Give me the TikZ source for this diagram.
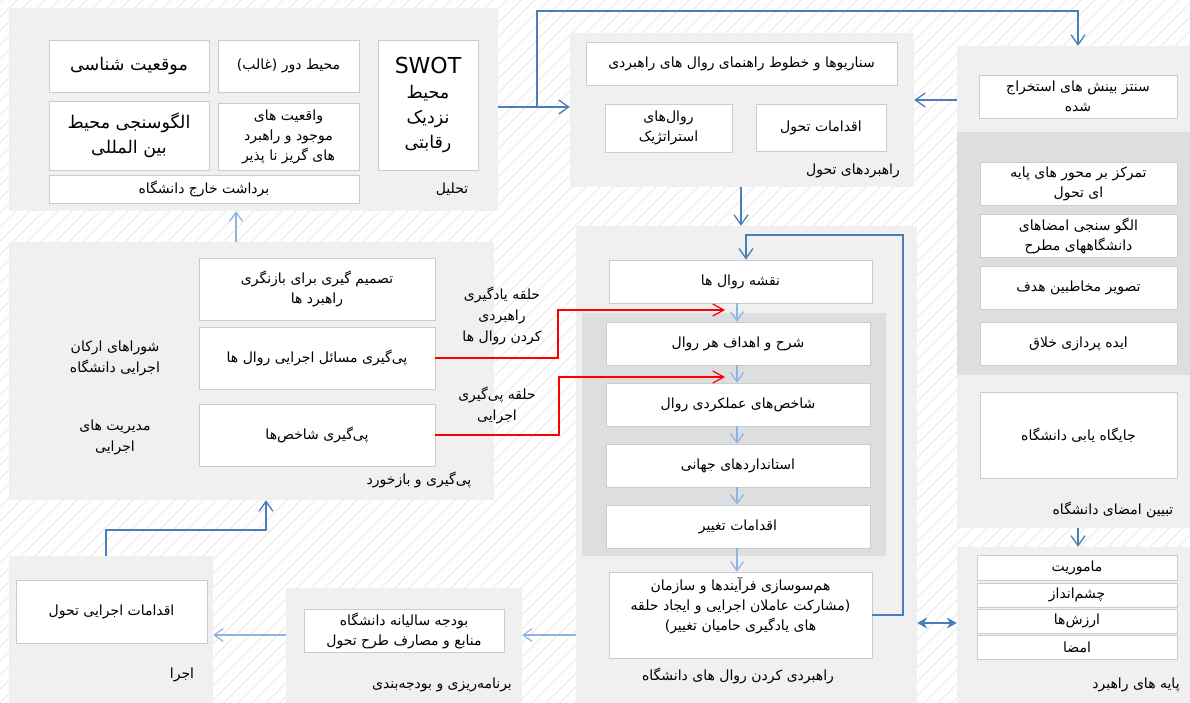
\documentclass[tikz,border=0pt]{standalone}
\usepackage{fontspec}
\usetikzlibrary{arrows.meta}
\newfontfamily\arabicfont[Script=Arabic]{DejaVu Sans}
\TeXXeTstate=1
\newcommand{\fa}[1]{\beginR #1\endR}
\definecolor{panelbg}{RGB}{240,240,240}
\definecolor{paneldark}{RGB}{221,222,223}
\definecolor{hatchline}{RGB}{222,222,222}
\definecolor{boxline}{RGB}{204,204,204}
\definecolor{darkblue}{RGB}{74,126,187}
\definecolor{lightblue}{RGB}{141,180,226}

\begin{document}
\begin{tikzpicture}[x=1pt, y=-1pt,
    panel/.style = {fill=panelbg, inner sep=0pt},
    darkpanel/.style = {fill=paneldark, inner sep=0pt},
    box/.style = {draw=boxline, fill=white, line width=0.8pt, inner sep=1pt, align=center,
      font=\arabicfont\fontsize{14}{20}\selectfont},
    bigbox/.style = {box, font=\arabicfont\fontsize{17.5}{25}\selectfont},
    lbl/.style = {align=center, inner sep=1pt, font=\arabicfont\fontsize{14}{21}\selectfont},
    darrow/.style = {draw=darkblue, line width=1.3pt, -{Straight Barb[length=10pt,width=14pt]}},
    larrow/.style = {draw=lightblue, line width=1.2pt, -{Straight Barb[length=9pt,width=13pt]}},
    redarrow/.style = {draw=red, line width=1.2pt, -{Straight Barb[length=11pt,width=12pt]}},
    dblarrow/.style = {draw=darkblue, line width=1.3pt, {Stealth[length=10pt,width=11pt]}-{Stealth[length=10pt,width=11pt]}}]
\useasboundingbox (0,0) rectangle (1190,703);

% background hatching
\begin{scope}
  \clip (0,0) rectangle (1190,703);
  \foreach \i in {-714,-700,...,1190}
    \draw[hatchline, line width=0.6pt] (\i,703) -- (\i+703,0);
\end{scope}

% panels
\node[panel, minimum width=489pt, minimum height=203pt] (tahlil) at (253.5,109.5) {};
\node[panel, minimum width=344pt, minimum height=154pt] (rahbord) at (742,110) {};
\node[panel, minimum width=233pt, minimum height=482pt] (sig) at (1073.5,287) {};
\node[darkpanel, minimum width=233pt, minimum height=243pt] (sigdark) at (1073.5,253.5) {};
\node[panel, minimum width=233pt, minimum height=156pt] (payeh) at (1073.5,625) {};
\node[panel, minimum width=485pt, minimum height=258pt] (peygiri) at (251.5,371) {};
\node[panel, minimum width=341pt, minimum height=477pt] (ravalpanel) at (746.5,464.5) {};
\node[darkpanel, minimum width=304pt, minimum height=243pt] (ravaldark) at (734,434.5) {};
\node[panel, minimum width=204pt, minimum height=147pt] (ejrapanel) at (111,629.5) {};
\node[panel, minimum width=236pt, minimum height=115pt] (barname) at (404,645.5) {};

% tahlil
\node[bigbox, minimum width=160pt, minimum height=52pt] (mowqiyat) at (129,66) {\fa{موقعیت شناسی}};
\node[box, minimum width=141pt, minimum height=52pt] (mohitdur) at (288.5,66) {\fa{محیط دور (غالب)}};
\node[bigbox, minimum width=160pt, minimum height=69pt] (olgusanji) at (129,135.5) {\fa{الگوسنجی محیط}\\ \fa{بین المللی}};
\node[box, minimum width=141pt, minimum height=67pt] (vaqeiyat) at (288.5,136.5) {\fa{واقعیت  های}\\ \fa{موجود و راهبرد}\\ \fa{های گریز نا پذیر}};
\node[bigbox, minimum width=100pt, minimum height=130pt] (swot) at (428,105) {\fontsize{22}{25}\selectfont SWOT\\ \fa{محیط}\\ \fa{نزدیک}\\ \fa{رقابتی}};
\node[box, minimum width=310pt, minimum height=28pt] (bardasht) at (204,189) {\fa{برداشت خارج دانشگاه}};
\node[lbl] (tahlillbl) at (452,189) {\fa{تحلیل}};

% rahbordha
\node[box, minimum width=311pt, minimum height=43pt] (senario) at (741.5,63.5) {\fa{سناریوها و خطوط راهنمای روال های راهبردی}};
\node[box, minimum width=127pt, minimum height=48pt] (ravalestr) at (668.5,128) {\fa{روال‌های}\\ \fa{استراتژیک}};
\node[box, minimum width=130pt, minimum height=47pt] (eqdamat) at (821,127.5) {\fa{اقدامات تحول}};
\node[lbl] (rahbordlbl) at (853,171) {\fa{راهبردهای تحول}};

% signature
\node[box, minimum width=198pt, minimum height=43pt] (sentez) at (1078,96.5) {\fa{سنتز بینش های استخراج}\\ \fa{شده}};
\node[box, minimum width=197pt, minimum height=43pt] (tamarkoz) at (1078.5,183.5) {\fa{تمرکز بر محور های پایه}\\ \fa{ای تحول}};
\node[box, minimum width=197pt, minimum height=43pt] (olguimza) at (1078.5,235.5) {\fa{الگو سنجی امضاهای}\\ \fa{دانشگاههای مطرح}};
\node[box, minimum width=197pt, minimum height=43pt] (tasvir) at (1078.5,287.5) {\fa{تصویر مخاطبین هدف}};
\node[box, minimum width=197pt, minimum height=43pt] (ide) at (1078.5,343.5) {\fa{ایده پردازی خلاق}};
\node[box, minimum width=197pt, minimum height=86pt] (jaygah) at (1078.5,435) {\fa{جایگاه یابی دانشگاه}};
\node[lbl] (siglbl) at (1113,510) {\fa{تبیین امضای دانشگاه}};

% payeh
\node[box, minimum width=200pt, minimum height=25pt, inner sep=0pt] (mamoriyat) at (1077,567.5) {\fa{ماموریت}};
\node[box, minimum width=200pt, minimum height=24pt, inner sep=0pt] (cheshmandaz) at (1077,595) {\fa{چشم‌انداز}};
\node[box, minimum width=200pt, minimum height=24pt, inner sep=0pt] (arzesh) at (1077,621) {\fa{ارزش‌ها}};
\node[box, minimum width=200pt, minimum height=24pt, inner sep=0pt] (imza) at (1077,647) {\fa{امضا}};
\node[lbl] (payehlbl) at (1136,685) {\fa{پایه های راهبرد}};

% peygiri
\node[box, minimum width=236pt, minimum height=62pt] (tasmim) at (317,289) {\fa{تصمیم گیری برای بازنگری}\\ \fa{راهبرد ها}};
\node[box, minimum width=236pt, minimum height=62pt] (masael) at (317,358) {\fa{پی‌گیری مسائل اجرایی روال ها}};
\node[box, minimum width=236pt, minimum height=62pt] (shakhes) at (317,435) {\fa{پی‌گیری شاخص‌ها}};
\node[lbl] (shoralbl) at (115,358) {\fa{شوراهای ارکان}\\ \fa{اجرایی دانشگاه}};
\node[lbl] (modirlbl) at (115,437) {\fa{مدیریت های}\\ \fa{اجرایی}};
\node[lbl] (peygirilbl) at (419,480) {\fa{پی‌گیری و بازخورد}};
\node[lbl] (halqe1) at (502,316) {\fa{حلقه یادگیری}\\ \fa{راهبردی}\\ \fa{کردن روال ها}};
\node[lbl] (halqe2) at (497,405) {\fa{حلقه پی‌گیری}\\ \fa{اجرایی}};

% raval
\node[box, minimum width=263pt, minimum height=43pt] (naqshe) at (740.5,281.5) {\fa{نقشه روال ها}};
\node[box, minimum width=264pt, minimum height=43pt] (sharh) at (738,343.5) {\fa{شرح و اهداف هر روال}};
\node[box, minimum width=264pt, minimum height=43pt] (amalkard) at (738,404.5) {\fa{شاخص‌های عملکردی روال}};
\node[box, minimum width=264pt, minimum height=43pt] (standard) at (738,465.5) {\fa{استانداردهای جهانی}};
\node[box, minimum width=264pt, minimum height=43pt] (taghyir) at (738,526.5) {\fa{اقدامات تغییر}};
\node[box, minimum width=263pt, minimum height=86pt, text depth=22pt] (hamsu) at (740.5,615) {\fa{هم‌سوسازی فرآیندها و سازمان}\\ \fa{(مشارکت عاملان اجرایی و ایجاد حلقه}\\ \fa{های یادگیری حامیان تغییر)}};
\node[lbl] (ravallbl) at (738,676) {\fa{راهبردی کردن روال های دانشگاه}};

% ejra & barname
\node[box, minimum width=191pt, minimum height=63pt] (eqdamejrai) at (111.5,611.5) {\fa{اقدامات اجرایی تحول}};
\node[lbl] (ejralbl) at (182,675) {\fa{اجرا}};
\node[box, minimum width=200pt, minimum height=43pt] (budje) at (404,630.5) {\fa{بودجه سالیانه دانشگاه}\\ \fa{منابع و مصارف طرح تحول}};
\node[lbl] (barnamelbl) at (442,685) {\fa{برنامه‌ریزی و بودجه‌بندی}};

% connectors
\coordinate (split) at (537,107);
\coordinate (redA) at (725,310);
\coordinate (redB) at (725,377);
\draw[darrow] (tahlil.east |- split) -- (rahbord.west |- split);
\draw[darrow] (split) |- (1078,11) -- (sig.north -| 1078,0);
\draw[darrow] (sig.west |- 0,100) -- (rahbord.east |- 0,100);
\draw[darrow] (rahbord.south -| 741,0) -- (ravalpanel.north -| 741,0);
\draw[darrow] (hamsu.east) -| (903,235) -| ([xshift=5.5pt]naqshe.north);
\draw[darrow] (sig.south -| 1078,0) -- (payeh.north -| 1078,0);
\draw[dblarrow] (ravalpanel.east |- 0,623) -- (payeh.west |- 0,623);
\draw[darrow] (ejrapanel.north -| 106,0) |- (266,530) -- (peygiri.south -| 266,0);
\draw[larrow] (peygiri.north -| 236,0) -- (tahlil.south -| 236,0);
\draw[larrow] (naqshe.south -| 737,0) -- (sharh.north -| 737,0);
\draw[larrow] (sharh.south -| 737,0) -- (amalkard.north -| 737,0);
\draw[larrow] (amalkard.south -| 737,0) -- (standard.north -| 737,0);
\draw[larrow] (standard.south -| 737,0) -- (taghyir.north -| 737,0);
\draw[larrow] (taghyir.south -| 737,0) -- (hamsu.north -| 737,0);
\draw[larrow] (ravalpanel.west |- 0,635) -- (barname.east |- 0,635);
\draw[larrow] (barname.west |- 0,635) -- (ejrapanel.east |- 0,635);
\draw[redarrow] (masael.east) -| (558,310) -- (redA);
\draw[redarrow] (shakhes.east) -| (559,377) -- (redB);
\end{tikzpicture}
\end{document}
